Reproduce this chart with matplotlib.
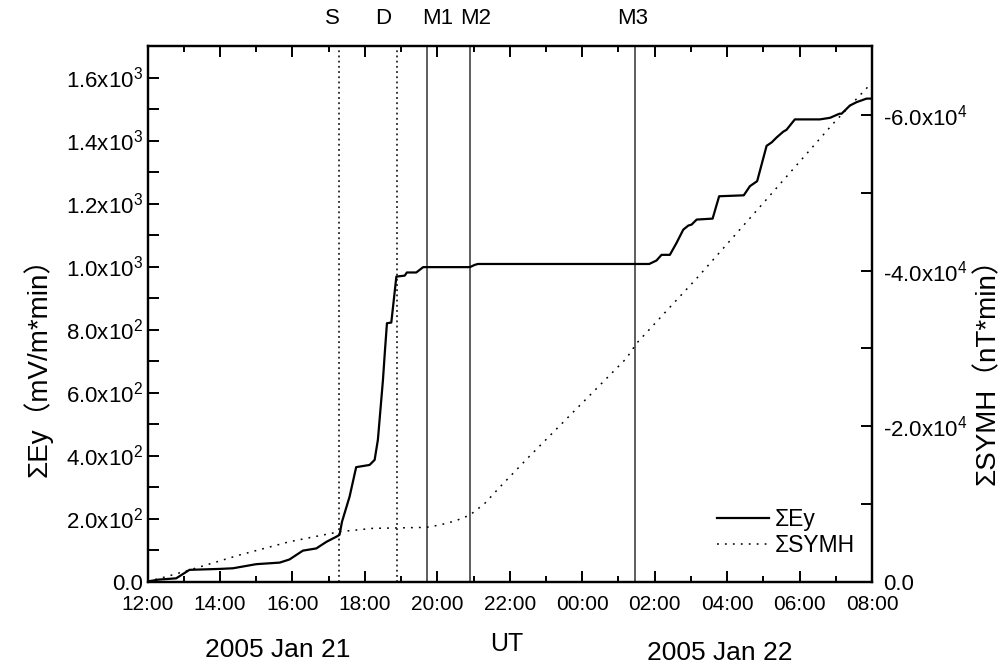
import matplotlib
matplotlib.use("Agg")
import matplotlib.pyplot as plt
from matplotlib.ticker import FixedLocator, MultipleLocator
from matplotlib.transforms import blended_transform_factory

plt.rcParams["font.family"] = ["Liberation Sans", "DejaVu Sans"]
plt.rcParams["mathtext.fontset"] = "custom"
plt.rcParams["mathtext.rm"] = "Liberation Sans"
plt.rcParams["mathtext.it"] = "Liberation Sans:italic"

# hours since 2005 Jan 21 12:00 UT
ey_t = [0.0, 0.3, 0.79, 1.16, 2.0, 2.36, 3.0, 3.65, 3.92, 4.29, 4.66, 4.94,
        5.21, 5.30, 5.37, 5.58, 5.76, 6.13, 6.27, 6.36, 6.50, 6.55, 6.61, 6.73,
        6.87, 7.10, 7.16, 7.42, 7.61, 8.90, 9.03, 9.12, 13.85, 14.05, 14.19,
        14.42, 14.60, 14.79, 14.93, 15.02, 15.16, 15.60, 15.78, 16.46, 16.63,
        16.83, 17.09, 17.23, 17.37, 17.55, 17.64, 17.87, 18.56, 18.84, 19.10,
        19.16, 19.39, 19.58, 19.85, 20.0]
ey_v = [0, 6, 10, 37, 40, 42, 55, 60, 70, 98, 105, 126,
        142, 148, 190, 270, 363, 370, 386, 450, 640, 725, 820, 822,
        968, 971, 981, 981, 998, 998, 1005, 1008, 1008, 1019, 1037,
        1037, 1074, 1117, 1130, 1133, 1149, 1152, 1223, 1226, 1255,
        1271, 1383, 1394, 1410, 1428, 1434, 1467, 1467, 1472, 1485,
        1485, 1511, 1522, 1533, 1533]

symh_t = [0.0, 0.5, 1.16, 2.54, 3.92, 5.30, 6.22, 7.0, 7.70, 8.07, 8.5, 8.9,
          9.3, 9.72, 10.5, 13.22, 13.50, 14.56, 15.16, 17.0, 18.93, 20.0]
symh_v = [0, -600, -1480, -3410, -5120, -6405, -6840, -6900, -6970, -7270,
          -7800, -8550, -10000, -12115, -15900, -28710, -30640, -35990,
          -39000, -48700, -58930, -64200]

events = ["S", "D", "M1", "M2", "M3"]
event_t = [5.29, 6.89, 7.72, 8.90, 13.46]
event_dotted = [True, True, False, False, False]
event_label_t = [5.10, 6.51, 8.0, 9.05, 13.39]

x_ticks = [0, 2, 4, 6, 8, 10, 12, 14, 16, 18, 20]
x_labels = ["12:00", "14:00", "16:00", "18:00", "20:00", "22:00",
            "00:00", "02:00", "04:00", "06:00", "08:00"]
ey_ticks = [0, 200, 400, 600, 800, 1000, 1200, 1400, 1600]
ey_labels = ["0.0", r"2.0x10$^2$", r"4.0x10$^2$", r"6.0x10$^2$", r"8.0x10$^2$",
             r"1.0x10$^3$", r"1.2x10$^3$", r"1.4x10$^3$", r"1.6x10$^3$"]
symh_ticks = [0, -20000, -40000, -60000]
symh_labels = ["0.0", r"-2.0x10$^4$", r"-4.0x10$^4$", r"-6.0x10$^4$"]

fig = plt.figure(figsize=(10.05, 6.64), dpi=100)
ax = fig.add_axes([147.5 / 1005, 1 - 581.5 / 664, 724.5 / 1005, 535.5 / 664])
ax2 = ax.twinx()

for t, dotted in zip(event_t, event_dotted):
    if dotted:
        ax.axvline(t, color="black", lw=1.1, ls=(0, (1.2, 2.2)))
    else:
        ax.axvline(t, color="#333333", lw=1.1)

l1, = ax.plot(ey_t, ey_v, color="black", lw=1.6)
l2, = ax2.plot(symh_t, symh_v, color="black", lw=1.1, ls=(0, (1.2, 4)))

ax.set_xlim(0, 20)
ax.set_ylim(0, 1700)
ax2.set_ylim(0, -68900)

ax.xaxis.set_major_locator(FixedLocator(x_ticks))
ax.set_xticklabels(x_labels, fontsize=15)
ax.xaxis.set_minor_locator(MultipleLocator(1))
ax.yaxis.set_major_locator(FixedLocator(ey_ticks))
ax.set_yticklabels(ey_labels, fontsize=16)
ax.yaxis.set_minor_locator(MultipleLocator(100))
ax2.yaxis.set_major_locator(FixedLocator(symh_ticks))
ax2.set_yticklabels(symh_labels, fontsize=16)
ax2.yaxis.set_minor_locator(MultipleLocator(10000))

ax.tick_params(axis="x", which="major", direction="in", top=True, length=8,
               width=1.4, pad=10)
ax.tick_params(axis="x", which="minor", direction="in", top=True, length=4,
               width=1.4)
ax.tick_params(axis="y", which="both", direction="in", length=8, width=1.4,
               pad=3)
ax2.tick_params(axis="y", which="both", direction="in", length=8, width=1.4,
                pad=8)
for a in (ax, ax2):
    for s in a.spines.values():
        s.set_linewidth(1.6)

tr = blended_transform_factory(ax.transData, ax.transAxes)
for name, t in zip(events, event_label_t):
    ax.text(t, 1.052, name, transform=tr, ha="center", va="center", fontsize=16)

cjk = ["Liberation Sans", "Noto Sans CJK SC"]
fig.text(38 / 1005, 1 - 360 / 664, "ΣEy（mV/m*min）", rotation=90,
         ha="center", va="center", fontsize=20, family=cjk)
fig.text(988 / 1005, 1 - 365 / 664, "ΣSYMH（nT*min）", rotation=90,
         ha="center", va="center", fontsize=20, family=cjk)

fig.text(278 / 1005, 1 - 650 / 664, "2005 Jan 21", ha="center", va="center",
         fontsize=19)
fig.text(507 / 1005, 1 - 644 / 664, "UT", ha="center", va="center", fontsize=18)
fig.text(720 / 1005, 1 - 653 / 664, "2005 Jan 22", ha="center", va="center",
         fontsize=19)

ax.legend([l1, l2], ["ΣEy", "ΣSYMH"], loc="lower right",
          bbox_to_anchor=(0.977, 0.045), frameon=False, fontsize=16.5,
          handlelength=2.3, handletextpad=0.26, labelspacing=0.15,
          borderpad=0, borderaxespad=0)

fig.savefig("out.png", dpi=100)
